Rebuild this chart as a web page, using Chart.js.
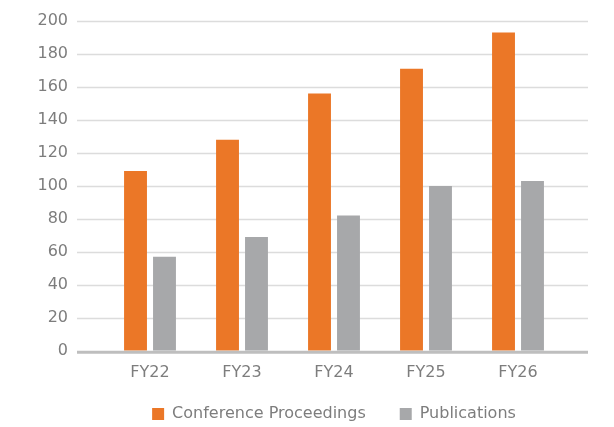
<!DOCTYPE html>
<html>
<head>
<meta charset="utf-8">
<script src="https://cdn.jsdelivr.net/npm/chart.js@4"></script>
<style>
  body { margin: 0; background: #fff; }
</style>
</head>
<body>
<canvas id="fyChart" width="614" height="427"></canvas>
<script>
const years = ['FY22', 'FY23', 'FY24', 'FY25', 'FY26'];
const conferenceProceedings = [109, 128, 156, 171, 193];
const publications = [57, 69, 82, 100, 103];
const yTicks = [0, 20, 40, 60, 80, 100, 120, 140, 160, 180, 200];

const textGray = '#7d7d7d';

// horizontal grid lines run wider than the bar area, like the original
const wideGrid = {
    id: 'wideGrid',
    afterLayout(chart) {
        // pull the legend up closer to the category labels
        chart.legend.top -= 22;
    },
    beforeDatasetsDraw(chart) {
        const { ctx, chartArea, scales: { y } } = chart;
        ctx.save();
        yTicks.forEach(v => {
            if (v === 0) return;
            const py = Math.round(y.getPixelForValue(v)) + 0.5;
            ctx.beginPath();
            ctx.lineWidth = 1.5;
            ctx.strokeStyle = '#dcdcdc';
            ctx.moveTo(chartArea.left - 27, py);
            ctx.lineTo(chartArea.right + 24, py);
            ctx.stroke();
        });
        ctx.restore();
    },
    afterDatasetsDraw(chart) {
        const { ctx, chartArea, scales: { y } } = chart;
        const py = y.getPixelForValue(0) + 1.5;
        ctx.save();
        ctx.beginPath();
        ctx.lineWidth = 3;
        ctx.strokeStyle = '#bebebe';
        ctx.moveTo(chartArea.left - 27, py);
        ctx.lineTo(chartArea.right + 24, py);
        ctx.stroke();
        ctx.restore();
    }
};

const ctx = document.getElementById('fyChart').getContext('2d');

new Chart(ctx, {
    type: 'bar',
    data: {
        labels: years,
        datasets: [
            {
                label: 'Conference Proceedings',
                data: conferenceProceedings,
                backgroundColor: '#eb7727',
                barPercentage: 0.79,
                categoryPercentage: 0.63
            },
            {
                label: 'Publications',
                data: publications,
                backgroundColor: '#a7a8aa',
                barPercentage: 0.79,
                categoryPercentage: 0.63
            }
        ]
    },
    options: {
        responsive: false,
        animation: false,
        layout: { padding: { left: 30, right: 50, top: 21, bottom: -27 } },
        scales: {
            x: {
                grid: { display: false, drawTicks: false },
                border: { display: false },
                ticks: {
                    color: textGray,
                    padding: 12,
                    font: { family: 'DejaVu Sans', size: 16 }
                }
            },
            y: {
                min: 0,
                max: 200,
                grid: { display: false, drawTicks: true, tickLength: 32 },
                border: { display: false },
                afterFit(scale) { scale.width = 74; },
                ticks: {
                    stepSize: 20,
                    color: textGray,
                    padding: 4,
                    font: { family: 'DejaVu Sans', size: 16 }
                }
            }
        },
        plugins: {
            legend: {
                position: 'bottom',
                fullSize: false,
                labels: {
                    color: textGray,
                    boxWidth: 12,
                    boxHeight: 12,
                    padding: 34,
                    font: { family: 'DejaVu Sans', size: 16 }
                }
            },
            tooltip: { enabled: false }
        }
    },
    plugins: [wideGrid]
});
</script>
</body>
</html>
